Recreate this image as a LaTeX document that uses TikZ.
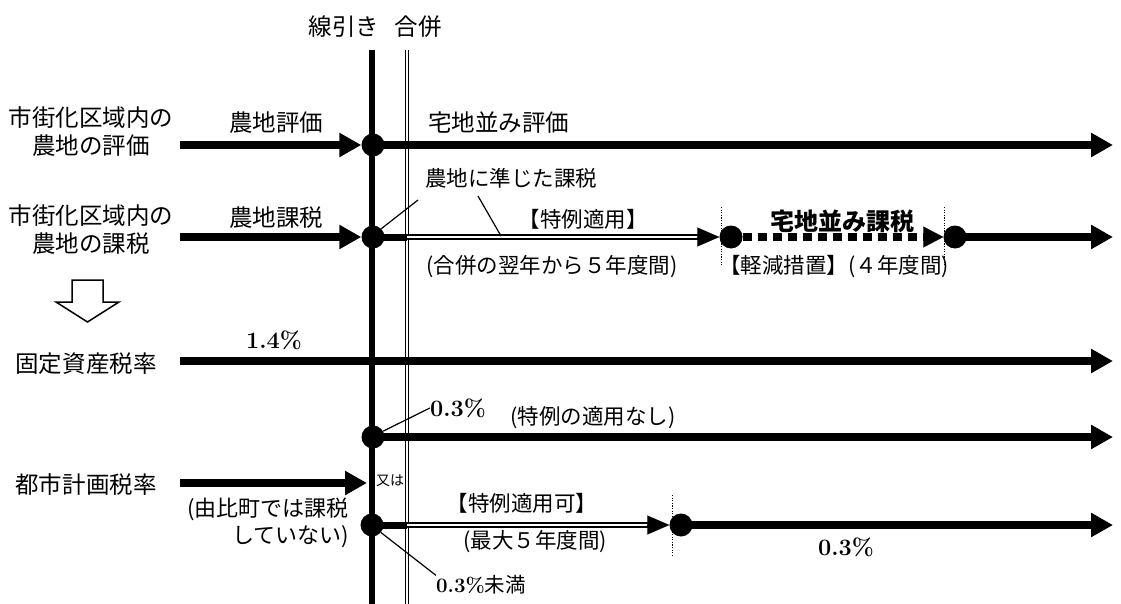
\documentclass[tikz,border=0pt]{standalone}
\usepackage{fontspec}
\newfontfamily\jp{Noto Sans CJK JP}
\usetikzlibrary{arrows.meta,calc}
\tikzset{
  lbl/.style={font=\jp\fontsize{23.5}{28}\selectfont, align=center, inner sep=0pt},
  sm/.style={font=\jp\fontsize{21.5}{25}\selectfont, inner sep=0pt},
  tiny/.style={font=\jp\fontsize{14}{16}\selectfont, inner sep=0pt},
  num/.style={font=\bfseries\fontsize{23.5}{27}\selectfont, inner sep=0pt},
  dot/.style={circle, fill=black, minimum size=23pt, inner sep=0pt},
  bigarr/.style={line width=7.5pt, -{Triangle[length=22pt,width=23pt]}},
  thickln/.style={line width=7pt},
  dblln/.style={double, line width=2pt, double distance=2.2pt},
  headonly/.style={line width=0.1pt, -{Triangle[length=22pt,width=19pt]}},
  dashln/.style={line width=7.5pt, dash pattern=on 9pt off 6pt},
  thinln/.style={line width=1.2pt},
  dotv/.style={line width=1pt, dash pattern=on 1.2pt off 1.4pt},
  vthick/.style={line width=5.5pt},
  vdbl/.style={double, line width=1.2pt, double distance=2pt},
  hollow/.style={draw, line width=1.5pt, fill=white, line join=miter},
}
\begin{document}
\begin{tikzpicture}[x=1pt,y=-1pt]
\useasboundingbox (0,0) rectangle (1121,604);
% vertical lines
\coordinate (lt) at (372,50); \coordinate (lb) at (372,604);
\coordinate (mt) at (407,50); \coordinate (mb) at (407,604);
\draw[vthick] (lt) -- (lb);
\draw[vdbl] (mt) -- (mb);
% titles
\node[lbl] (t1) at (344,27) {線引き};
\node[lbl] (t2) at (418,27) {合併};

% row 1
\node[lbl] (L1) at (91,132) {市街化区域内の\\農地の評価};
\coordinate (s1) at (180,145);
\node[dot] (d1) at (373,145) {};
\coordinate (e1) at (1113,145);
\draw[bigarr] (s1) -- (d1.west);
\draw[bigarr] (d1.center) -- (e1);
\node[lbl] (a1) at (276,123) {農地評価};
\node[lbl, anchor=west] (b1) at (428,123) {宅地並み評価};

% row 2
\node[lbl] (L2) at (91,230) {市街化区域内の\\農地の課税};
\coordinate (s2) at (180,237);
\node[dot] (d2a) at (373,237) {};
\node[dot] (d2b) at (731,237) {};
\node[dot] (d2c) at (955,237) {};
\coordinate (e2) at (1113,237);
\draw[bigarr] (s2) -- (d2a.west);
\draw[thickln] (d2a.center) -- (d2a.center -| mt);
\draw[dblln] (d2a.center -| mt) -- ($(d2b.west)+(-21,0)$);
\draw[headonly] ($(d2b.west)+(-22,0)$) -- (d2b.west);
\draw[dashln] (d2b.east) -- ($(d2c.west)+(-20,0)$);
\draw[line width=0.1pt, -{Triangle[length=20pt,width=21pt]}] ($(d2c.west)+(-20,0)$) -- (d2c.west);
\draw[bigarr] (d2c.center) -- (e2);
\coordinate (v1t) at (721,207); \coordinate (v1b) at (721,266);
\coordinate (v2t) at (944,207); \coordinate (v2b) at (944,266);
\draw[dotv] (v1t) -- (v1b);
\draw[dotv] (v2t) -- (v2b);
\node[lbl] (a2) at (276,218) {農地課税};
\node[sm, anchor=west] (b2) at (425,178) {農地に準じた課税};
\coordinate (k1) at (418,200);
\coordinate (k2a) at (478,196);
\coordinate (k2b) at (501,236);
\draw[thinln] (d2a.45) -- (k1);
\draw[thinln] (k2a) -- (k2b);
\node[sm] (c2) at (583,219) {【特例適用】};
\node[sm] (f2) at (552,267) {(合併の翌年から５年度間)};
\node[lbl, font=\jp\bfseries\fontsize{24}{28}\selectfont] (g2) at (842,221) {宅地並み課税};
\node[sm] (h2) at (834,267) {【軽減措置】(４年度間)};

% hollow arrow
\draw[hollow] (72,280) -- (103,280) -- (103,302) -- (119,302) -- (87.5,322) -- (56,302) -- (72,302) -- cycle;

% row 3
\node[lbl] (L3) at (86,364) {固定資産税率};
\coordinate (s3) at (180,361);
\coordinate (e3) at (1113,361);
\draw[bigarr] (s3) -- (e3);
\node[num] (p3) at (274,340) {1.4\%};

% row 4
\node[dot] (d4) at (373,437) {};
\coordinate (e4) at (1113,437);
\draw[bigarr] (d4.center) -- (e4);
\node[num] (p4) at (458,408) {0.3\%};
\draw[thinln] (d4.30) -- (p4.west);
\node[sm] (n4) at (593,418) {(特例の適用なし)};

% row 5
\node[lbl] (L5) at (86,485) {都市計画税率};
\coordinate (s5) at (180,483);
\coordinate (e5) at (367,483);
\draw[bigarr] (s5) -- (e5);
\node[tiny] (or) at (390,481) {又は};
\node[lbl, font=\jp\fontsize{22}{27}\selectfont, align=right, anchor=east] (y5) at (349,523) {(由比町では課税\\していない)};

% row 6
\node[dot] (d6a) at (372,525) {};
\node[dot] (d6b) at (681,525) {};
\coordinate (e6) at (1113,525);
\draw[thickln] (d6a.center) -- (d6a.center -| mt);
\draw[dblln] (d6a.center -| mt) -- ($(d6b.west)+(-21,0)$);
\draw[headonly] ($(d6b.west)+(-22,0)$) -- (d6b.west);
\draw[bigarr] (d6b.center) -- (e6);
\coordinate (v3t) at (672,495); \coordinate (v3b) at (672,557);
\draw[dotv] (v3t) -- (v3b);
\node[sm] (c6) at (522,503) {【特例適用可】};
\node[sm] (f6) at (535,542) {(最大５年度間)};
\node[num] (p6) at (846,547) {0.3\%};
\node[inner sep=0pt] (q6) at (481,585) {\bfseries\fontsize{20.5}{24}\selectfont 0.3\%{\jp\mdseries 未満}};
\draw[thinln] (d6a.-40) -- (q6.north west);
\end{tikzpicture}
\end{document}
